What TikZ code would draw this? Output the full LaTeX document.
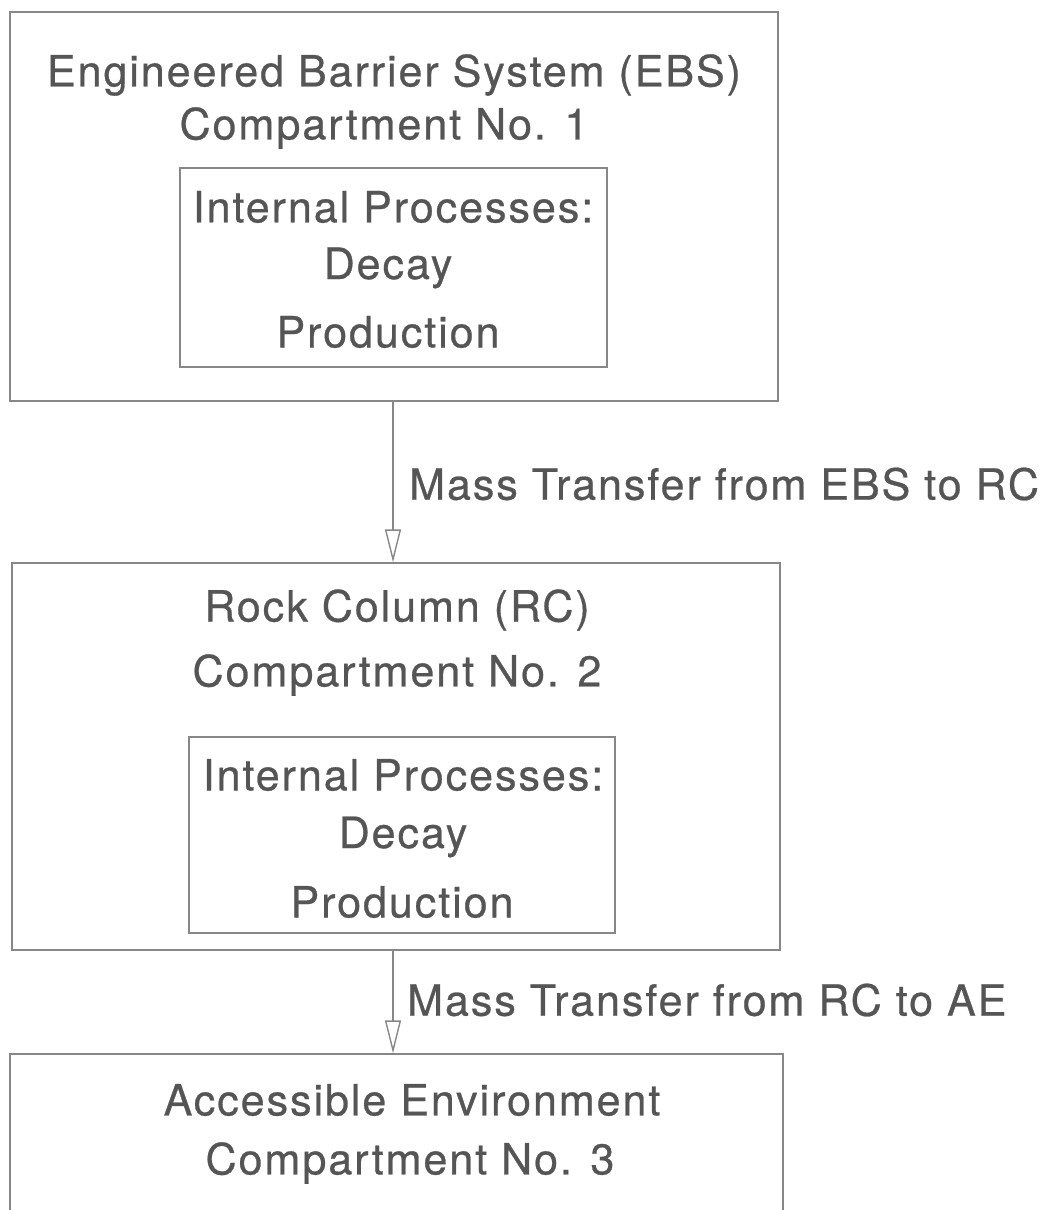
\documentclass[tikz,border=0pt]{standalone}
\usepackage{fontspec}
\setmainfont{TeX Gyre Heros}[LetterSpace = 4.5, FakeBold = 0.6]
\usetikzlibrary{arrows.meta}
\definecolor{inkgray}{RGB}{85,85,85}
\definecolor{linegray}{RGB}{135,135,135}

\begin{document}
\begin{tikzpicture}[x = 0.02cm, y = -0.02cm, font = \fontsize{24.5}{28}\selectfont, text = inkgray,
    box/.style = {draw = linegray, line width = 0.8pt, inner sep = 0pt},
    flow/.style = {draw = linegray, line width = 0.8pt, -{Triangle[open, length = 0.66cm, width = 0.32cm]}}]
    \useasboundingbox (0,0) rectangle (1049,1210);
    \clip (0,0) rectangle (1049,1210);

    % compartment 1
    \node[box, minimum width = 15.36cm, minimum height = 7.78cm] (ebs) at (394,206.5) {};
    \node[box, minimum width = 8.54cm, minimum height = 3.98cm] (ebsin) at (393.5,267.5) {};
    \node (ebst1) at (394,75) {Engineered Barrier System (EBS)};
    \node (ebst2) at (384,128) {Compartment No. 1};
    \node (ebsp1) at (393,207) {Internal Processes:};
    \node (ebsp2) at (388,268) {Decay};
    \node (ebsp3) at (388,332) {Production};

    % compartment 2
    \node[box, minimum width = 15.36cm, minimum height = 7.74cm] (rc) at (396,756.5) {};
    \node[box, minimum width = 8.52cm, minimum height = 3.92cm] (rcin) at (402,835) {};
    \node (rct1) at (397,610) {Rock Column (RC)};
    \node (rct2) at (397,675) {Compartment No. 2};
    \node (rcp1) at (403,775) {Internal Processes:};
    \node (rcp2) at (403,837) {Decay};
    \node (rcp3) at (402,902) {Production};

    % compartment 3
    \node[box, minimum width = 15.46cm, minimum height = 6cm] (ae) at (396.5,1204) {};
    \node (aet1) at (412,1100) {Accessible Environment};
    \node (aet2) at (410,1163) {Compartment No. 3};

    % transfers
    \draw[flow] (ebs.south -| 393,0) -- (rc.north -| 393,0);
    \draw[flow] (rc.south -| 393,0) -- (ae.north -| 393,0);
    \node[anchor = west] (mt1) at (403,484) {Mass Transfer from EBS to RC};
    \node[anchor = west] (mt2) at (401,1000) {Mass Transfer from RC to AE};
\end{tikzpicture}
\end{document}
